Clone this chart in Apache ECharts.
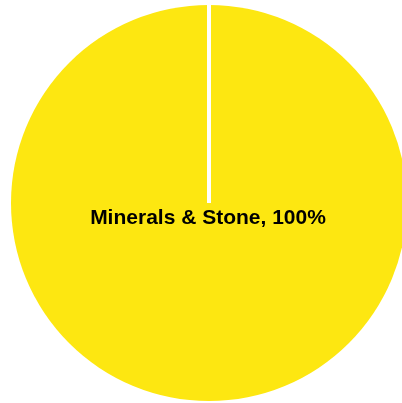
<!DOCTYPE html>
<html>
<head>
<meta charset="utf-8">
<script src="https://cdn.jsdelivr.net/npm/echarts@6/dist/echarts.min.js"></script>
<style>html,body{margin:0;padding:0;background:#fff;}#c{width:402px;height:403px;}</style>
</head>
<body>
<div id="c"></div>
<script>
var categories = ["Minerals & Stone"];
var values = [100];
var colors = ["#FDE711"];

var cx = 209, cy = 203, R = 198;
var chart = echarts.init(document.getElementById('c'), null, {renderer: 'canvas'});
var total = values.reduce(function(a, b){ return a + b; }, 0);
chart.setOption({
  animation: false,
  series: [{
    type: 'pie',
    center: [cx, cy],
    radius: [0, R],
    startAngle: 90,
    clockwise: true,
    label: {
      show: true,
      position: 'center',
      fontFamily: 'Liberation Sans, Arial, sans-serif',
      fontWeight: 'bold',
      fontSize: 21,
      color: '#000',
      formatter: function (p) { return p.name + ', ' + Math.round(p.value / total * 100) + '%'; }
    },
    labelLayout: { dx: -1, dy: 15 },
    labelLine: { show: false },
    emphasis: { disabled: true },
    itemStyle: { borderColor: '#fff', borderWidth: 0 },
    data: categories.map(function (c, i) {
      return { name: c, value: values[i], itemStyle: { color: colors[i] } };
    })
  }],
  graphic: [{
    type: 'line',
    z: 100,
    shape: { x1: cx, y1: cy, x2: cx, y2: cy - R - 2 },
    style: { stroke: '#fff', lineWidth: 4 }
  }]
});
</script>
</body>
</html>
